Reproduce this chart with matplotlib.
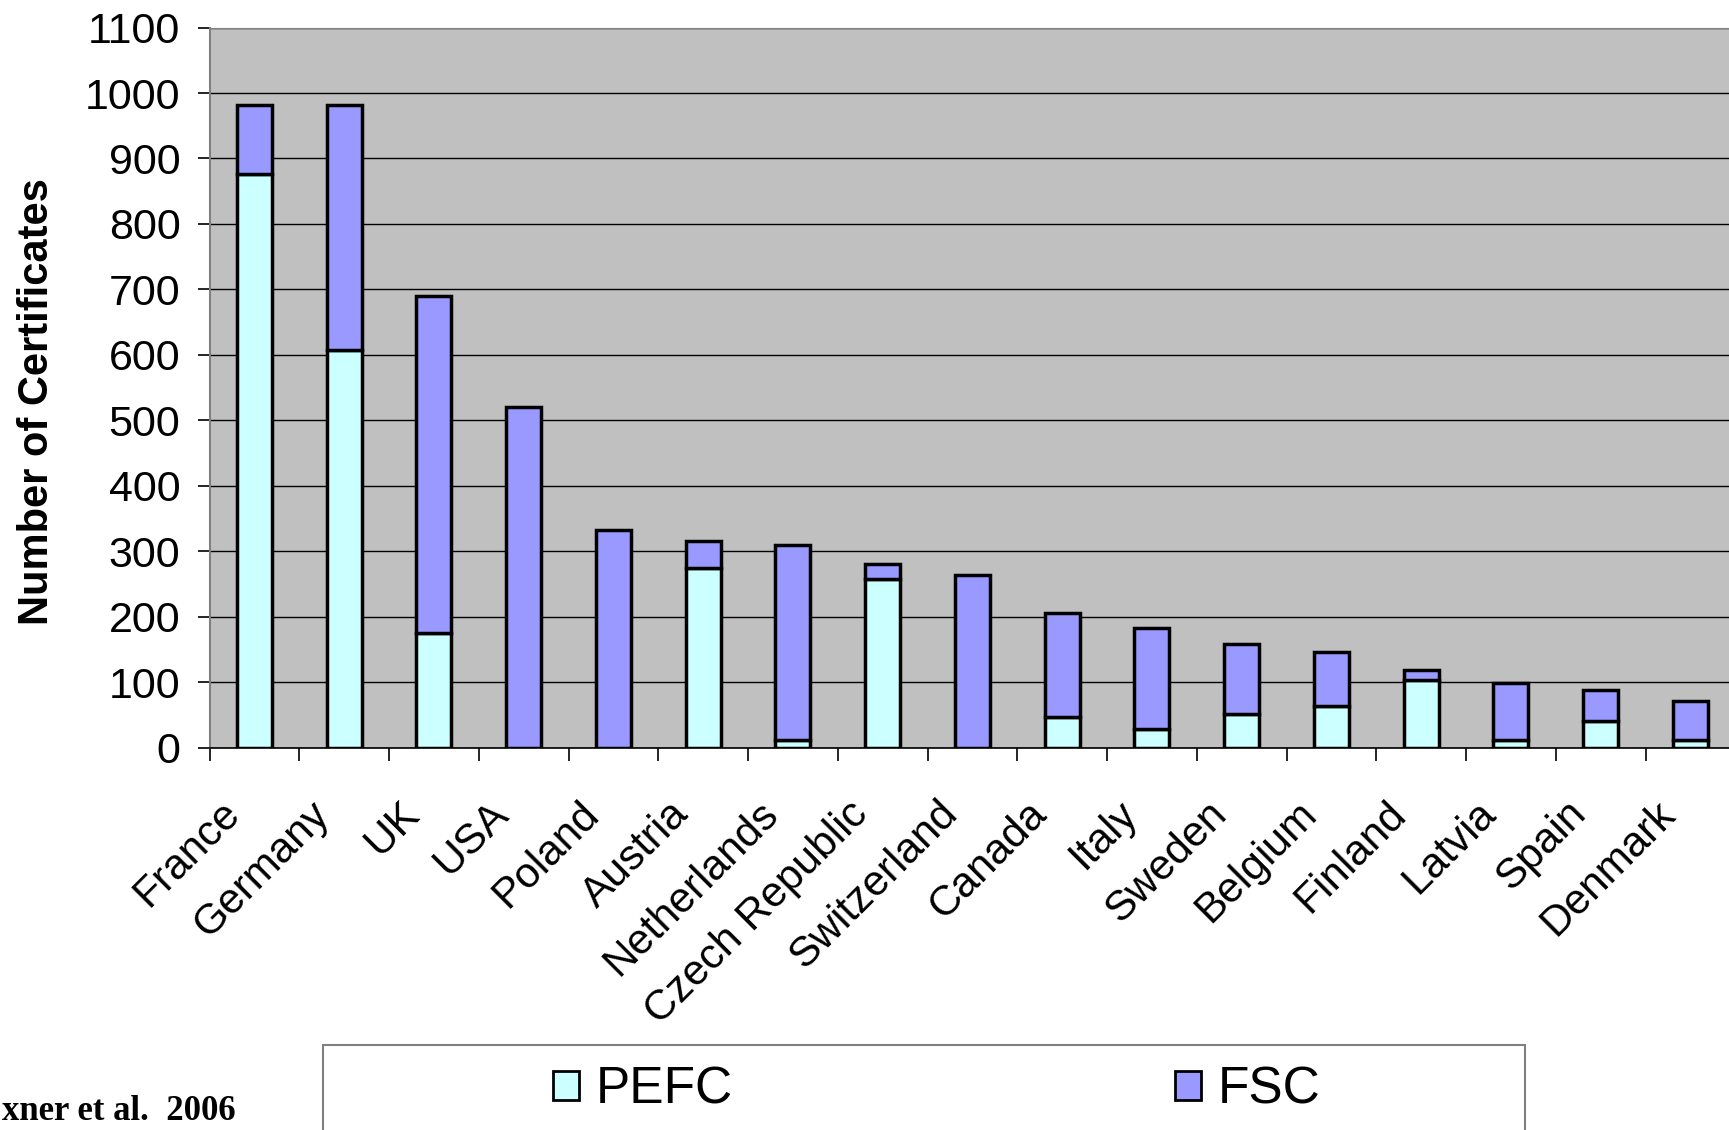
import matplotlib.pyplot as plt
from matplotlib.patches import Patch, Rectangle
from matplotlib.transforms import ScaledTranslation
import numpy as np

countries = ['France', 'Germany', 'UK', 'USA', 'Poland', 'Austria', 'Netherlands',
             'Czech Republic', 'Switzerland', 'Canada', 'Italy', 'Sweden', 'Belgium',
             'Finland', 'Latvia', 'Spain', 'Denmark']
pefc = [877, 608, 175, 0, 0, 274, 12, 258, 0, 47, 29, 52, 64, 104, 12, 40, 12]
fsc = [104, 373, 515, 520, 333, 42, 298, 23, 264, 158, 153, 106, 82, 14, 87, 48, 59]

c_pefc = '#CCFFFF'
c_fsc = '#9999FF'

plt.rcParams['font.family'] = ['Liberation Sans', 'DejaVu Sans']

fig = plt.figure(figsize=(17.29, 11.30), dpi=100)
ax = fig.add_axes([0.1212, 0.3384, 0.8788, 0.6372])
ax.set_facecolor('#C0C0C0')

x = np.arange(len(countries))
ax.bar(x, pefc, width=0.39, color=c_pefc, edgecolor='black', linewidth=2.5, zorder=3)
ax.bar(x, fsc, width=0.39, bottom=pefc, color=c_fsc, edgecolor='black', linewidth=2.5, zorder=3)

ax.set_ylim(0, 1100)
ax.set_xlim(-0.5, len(countries) - 0.57)
ax.set_yticks(range(0, 1101, 100))
ax.yaxis.grid(True, color='black', linewidth=1.0, zorder=0)
ax.tick_params(axis='y', labelsize=31, length=9, width=1.2, direction='out', pad=12)

# ticks between categories, labels at category centres
ax.set_xticks(x - 0.5)
ax.set_xticklabels([])
ax.set_xticks(x, minor=True)
ax.set_xticklabels(countries, minor=True, rotation=45, ha='right', va='top',
                   rotation_mode='anchor', fontsize=30.5)
ax.tick_params(axis='x', which='major', length=9, width=1.2, direction='out')
ax.tick_params(axis='x', which='minor', length=0, pad=33)
shift = ScaledTranslation(-0.35, 0, fig.dpi_scale_trans)
for lab in ax.get_xticklabels(minor=True):
    lab.set_transform(lab.get_transform() + shift)

ax.spines['top'].set_color('#808080')
ax.spines['right'].set_visible(False)
ax.spines['left'].set_color('#808080')
ax.spines['left'].set_linewidth(1.5)
ax.spines['bottom'].set_linewidth(1.2)

ax.set_ylabel('Number of Certificates', fontsize=30, fontweight='bold')
ax.yaxis.set_label_coords(-0.1003, 0.481)

# legend box (runs off the bottom edge like the original)
fig.patches.append(Rectangle((0.187, -0.02), 0.695, 0.0952, transform=fig.transFigure,
                             facecolor='white', edgecolor='#808080', linewidth=1.5))
handles = [Patch(facecolor=c_pefc, edgecolor='black', linewidth=2),
           Patch(facecolor=c_fsc, edgecolor='black', linewidth=2)]
fig.legend(handles, ['PEFC', 'FSC'], loc='center left', ncol=2,
           bbox_to_anchor=(0.32, 0.035), fontsize=37, frameon=False,
           handlelength=0.5, handleheight=0.5, handletextpad=0.33,
           borderpad=0, columnspacing=8.6, borderaxespad=0)

fig.text(0.001, 0.002, 'xner et al.  2006', fontsize=25, fontweight='bold',
         family=['Liberation Serif', 'DejaVu Serif'], ha='left', va='bottom')

fig.savefig('out.png', dpi=100)
